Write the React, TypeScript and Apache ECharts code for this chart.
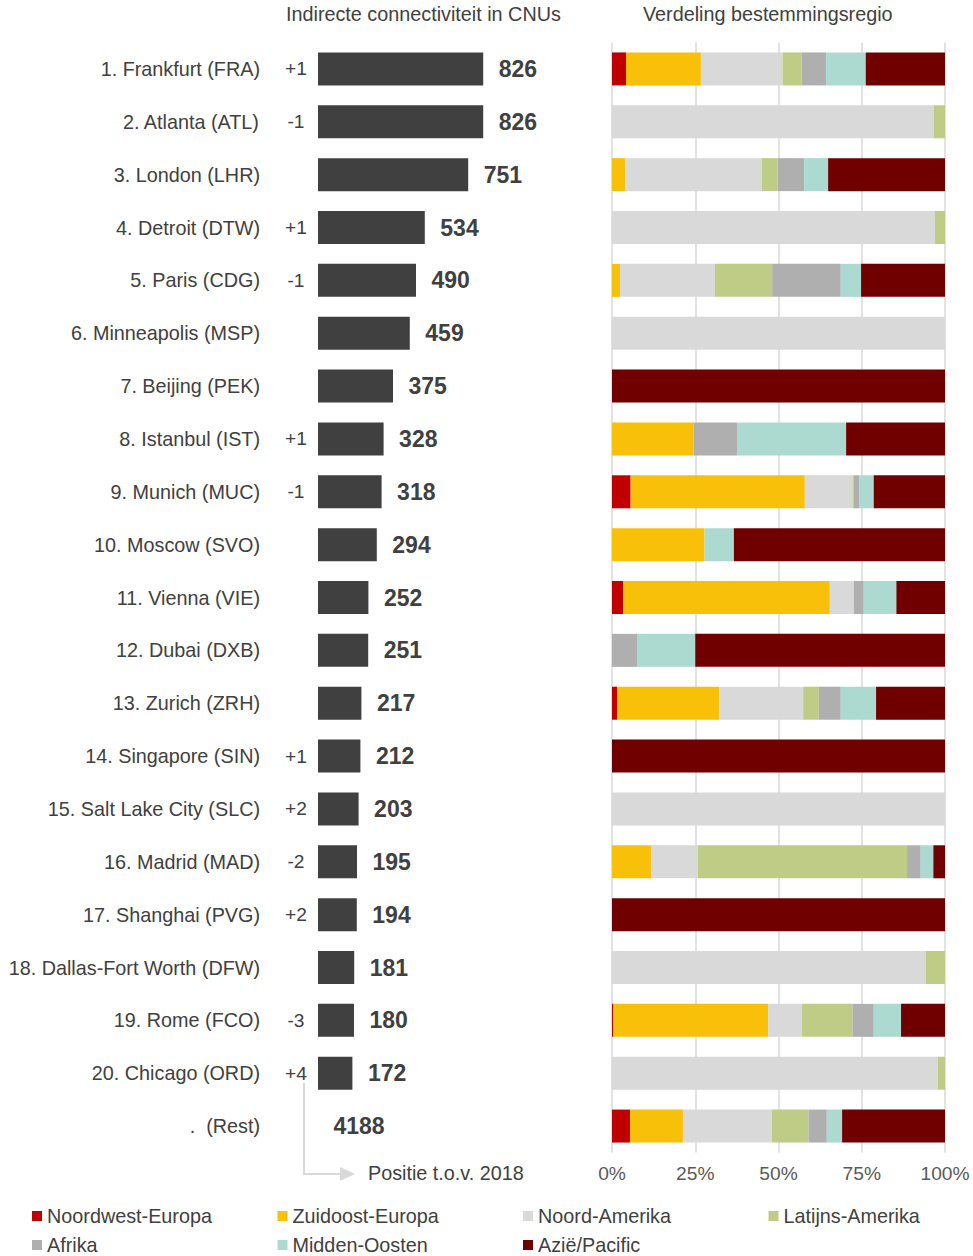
import React, { useEffect, useRef } from "react";
import * as echarts from "echarts";

const ranks = ["1", "2", "3", "4", "5", "6", "7", "8", "9", "10", "11", "12", "13", "14", "15", "16", "17", "18", "19", "20", ""];
const airports = [
  "Frankfurt (FRA)", "Atlanta (ATL)", "London (LHR)", "Detroit (DTW)", "Paris (CDG)",
  "Minneapolis (MSP)", "Beijing (PEK)", "Istanbul (IST)", "Munich (MUC)", "Moscow (SVO)",
  "Vienna (VIE)", "Dubai (DXB)", "Zurich (ZRH)", "Singapore (SIN)", "Salt Lake City (SLC)",
  "Madrid (MAD)", "Shanghai (PVG)", "Dallas-Fort Worth (DFW)", "Rome (FCO)", "Chicago (ORD)", " (Rest)",
];
const rankChanges = ["+1", "-1", "", "+1", "-1", "", "", "+1", "-1", "", "", "", "", "+1", "+2", "-2", "+2", "", "-3", "+4", ""];
const connectivity = [826, 826, 751, 534, 490, 459, 375, 328, 318, 294, 252, 251, 217, 212, 203, 195, 194, 181, 180, 172, 4188];
const restIndex = 20;

const regions = ["Noordwest-Europa", "Zuidoost-Europa", "Noord-Amerika", "Latijns-Amerika", "Afrika", "Midden-Oosten", "Azië/Pacific"];
const noordwestEuropa = [4.2, 0, 0, 0, 0, 0, 0, 0, 5.6, 0, 3.4, 0, 1.5, 0, 0, 0, 0, 0, 0.4, 0, 5.4];
const zuidoostEuropa = [22.5, 0, 3.9, 0, 2.4, 0, 0, 24.5, 52.3, 27.8, 62.0, 0, 30.7, 0, 0, 11.7, 0, 0, 46.5, 0, 15.9];
const noordAmerika = [24.5, 96.6, 41.1, 97.0, 28.5, 100, 0, 0, 14.3, 0, 7.2, 0, 25.2, 0, 100, 14.1, 0, 94.2, 10.1, 97.8, 26.7];
const latijnsAmerika = [5.7, 3.4, 4.8, 3.0, 17.2, 0, 0, 0, 0.3, 0, 0, 0, 4.7, 0, 0, 62.8, 0, 5.8, 15.2, 2.2, 11.0];
const afrika = [7.4, 0, 7.9, 0, 20.6, 0, 0, 13.2, 1.7, 0, 3.0, 7.5, 6.6, 0, 0, 4.1, 0, 0, 6.4, 0, 5.5];
const middenOosten = [11.9, 0, 7.2, 0, 6.1, 0, 0, 32.6, 4.4, 8.8, 9.8, 17.5, 10.6, 0, 0, 3.8, 0, 0, 8.2, 0, 4.6];
const aziePacific = [23.8, 0, 35.1, 0, 25.2, 0, 100, 29.7, 21.4, 63.4, 14.6, 75.0, 20.7, 100, 0, 3.5, 100, 0, 13.2, 0, 30.9];
const regionValues = [noordwestEuropa, zuidoostEuropa, noordAmerika, latijnsAmerika, afrika, middenOosten, aziePacific];
const regionColors = ["#C00000", "#F8C009", "#D9D9D9", "#BFCC85", "#AFAFAF", "#ACD9D0", "#700000"];

const percentTicks = [0, 25, 50, 75, 100];

const FONT = "'Liberation Sans', Arial, sans-serif";
const TEXT = "#404040";
const FS = 19.8;

export default function App() {
  const ref = useRef<HTMLDivElement>(null);

  useEffect(() => {
    if (!ref.current) return;
    const chart = echarts.init(ref.current, undefined, { renderer: "svg" });
    const categories = airports.map((a, i) => `${ranks[i]}. ${a}`);
    const barValues = connectivity.map((v, i) => (i === restIndex ? 0 : v));

    const legends = regions.map((r, k) => ({
      left: 32 + (k % 4) * 245.5,
      top: k < 4 ? 1206 : 1235,
      padding: 0,
      itemWidth: 10,
      itemHeight: 10,
      icon: "rect",
      selectedMode: false,
      data: [r],
      textStyle: { fontSize: FS, color: TEXT, fontFamily: FONT, padding: [0, 0, 0, 0] },
    }));

    const option: any = {
      animation: false,
      textStyle: { fontFamily: FONT },
      grid: [
        { left: 318, width: 200, top: 42.5, height: 1110, containLabel: false, outerBoundsMode: "none" },
        { left: 612, width: 333, top: 42.5, height: 1110, containLabel: false, outerBoundsMode: "none" },
      ],
      xAxis: [
        { type: "value", gridIndex: 0, min: 0, max: 1000, show: false },
        {
          type: "value",
          gridIndex: 1,
          min: percentTicks[0],
          max: percentTicks[percentTicks.length - 1],
          interval: 25,
          axisLine: { show: false },
          axisTick: { show: false },
          splitLine: { show: true, lineStyle: { color: "#D9D9D9", width: 1.5 } },
          axisLabel: { formatter: "{value}%", color: "#595959", fontSize: 19.2, fontFamily: FONT, margin: 11 },
        },
      ],
      yAxis: [
        {
          type: "category",
          gridIndex: 0,
          inverse: true,
          data: categories,
          axisLine: { show: false },
          axisTick: { show: false },
          axisLabel: {
            margin: 4,
            formatter: (value: string, index: number) =>
              `{n|${value}}{c|${rankChanges[index] || "\u00a0"}}`,
            rich: {
              n: { fontSize: FS, color: TEXT, fontFamily: FONT, padding: [0, 18, 0, 0], align: "left" },
              c: { fontSize: 19.2, color: TEXT, fontFamily: FONT, width: 36, align: "center" },
            },
          },
        },
        {
          type: "category",
          gridIndex: 1,
          inverse: true,
          data: categories,
          axisLine: { show: false },
          axisTick: { show: false },
          axisLabel: { show: false },
        },
      ],
      legend: legends,
      graphic: [
        {
          type: "text",
          left: 286,
          top: 4,
          style: { text: "Indirecte connectiviteit in CNUs", fill: TEXT, font: `${FS}px ${FONT}` },
        },
        {
          type: "text",
          left: 643,
          top: 4,
          style: { text: "Verdeling bestemmingsregio", fill: TEXT, font: `${FS}px ${FONT}` },
        },
        {
          type: "polyline",
          shape: { points: [[304, 1083], [304, 1174], [341, 1174]] },
          style: { stroke: "#D9D9D9", lineWidth: 2, fill: null },
        },
        {
          type: "polygon",
          shape: { points: [[340, 1167], [355, 1174], [340, 1181]] },
          style: { fill: "#D9D9D9" },
        },
        {
          type: "text",
          left: 368,
          top: 1163,
          style: { text: "Positie t.o.v. 2018", fill: TEXT, font: `${FS}px ${FONT}` },
        },
      ],
      series: [
        {
          type: "bar",
          name: "Connectiviteit",
          xAxisIndex: 0,
          yAxisIndex: 0,
          data: barValues,
          barWidth: 33,
          itemStyle: { color: "#404040" },
          label: {
            show: true,
            position: "right",
            distance: 15.5,
            formatter: (p: any) => String(connectivity[p.dataIndex]),
            fontSize: 23,
            fontWeight: "bold",
            color: TEXT,
            fontFamily: FONT,
          },
        },
        ...regions.map((r, k) => ({
          type: "bar",
          name: r,
          stack: "verdeling",
          xAxisIndex: 1,
          yAxisIndex: 1,
          data: regionValues[k],
          barWidth: 33,
          itemStyle: { color: regionColors[k] },
        })),
      ],
    };
    chart.setOption(option);
    return () => chart.dispose();
  }, []);

  return (
    <div
      ref={ref}
      style={{ position: "absolute", left: 0, top: 0, width: 973, height: 1256, background: "#fff" }}
    />
  );
}
